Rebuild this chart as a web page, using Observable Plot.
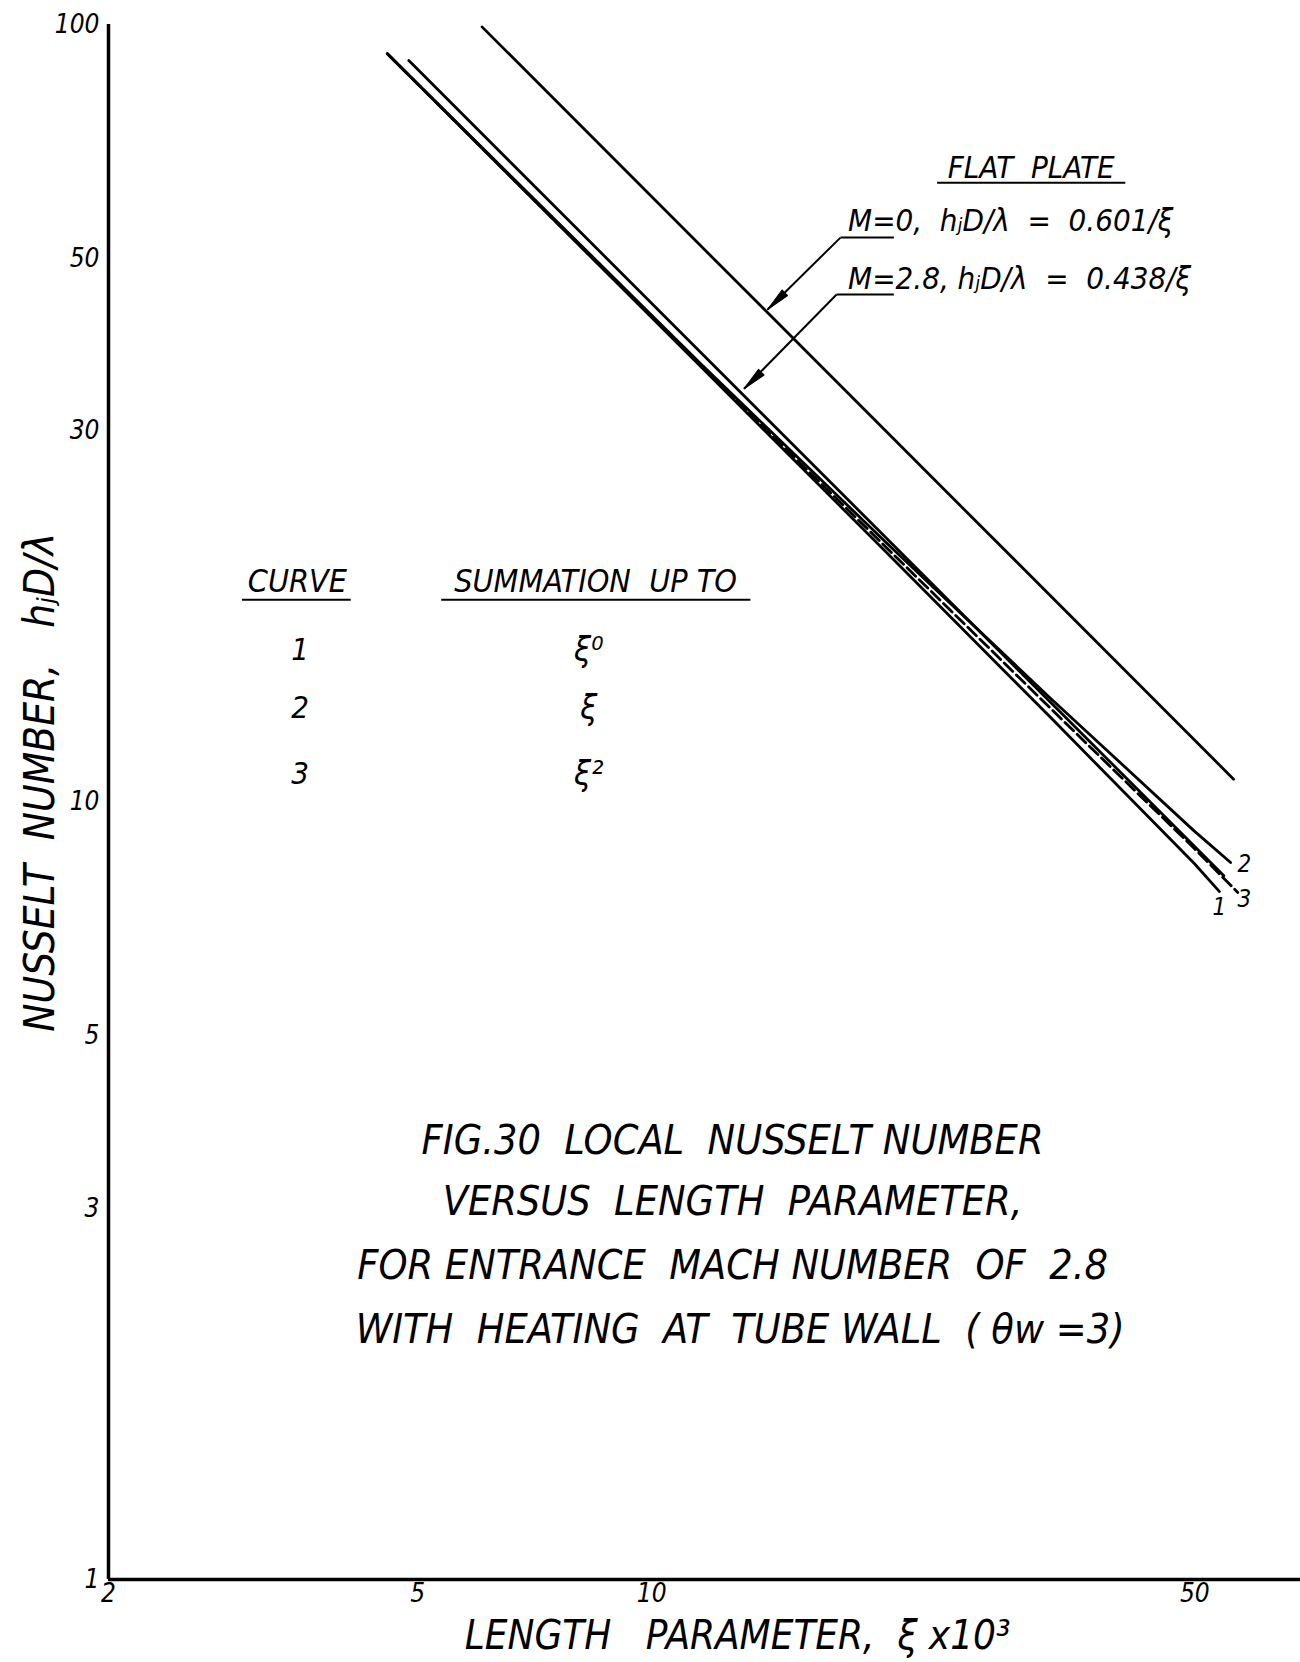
<!DOCTYPE html>
<html>
<head>
<meta charset="utf-8">
<script src="https://cdn.jsdelivr.net/npm/d3@7"></script>
<script src="https://cdn.jsdelivr.net/npm/@observablehq/plot@0.6"></script>
<style>
  html, body { margin: 0; padding: 0; background: #fff; overflow: hidden; }
  #chart svg { display: block; }
</style>
</head>
<body>
<div id="chart"></div>
<script>
// ---- data ----
const xTicks = [2, 5, 10, 50];
const yTicks = [1, 3, 5, 10, 30, 50, 100];

// curves 1, 2, 3 (summation up to xi^0, xi, xi^2)
const curve1X  = [4.57, 11.6, 20, 32.6, 49.9, 53.8];
const curve1Nu = [91.7, 36.2, 21.0, 12.85, 8.34, 7.67];
const curve2X  = [4.57, 11.6, 20, 32.6, 49.9, 55.6];
const curve2Nu = [91.7, 36.5, 21.6, 13.6, 9.18, 8.36];
const curve3X  = [4.57, 11.6, 20, 32.6, 49.9, 56.8];
const curve3Nu = [91.7, 36.3, 21.3, 13.2, 8.72, 7.65];

// flat plate lines
const flat0X  = [6.05, 56.1];   // M = 0
const flat0Nu = [99.3, 10.7];
const flat28X  = [4.87, 54.5];  // M = 2.8
const flat28Nu = [89.9, 8.04];

// curve end labels
const endLabels = ["2", "3", "1"];
const endLabelX = [57.9, 57.9, 53.8];
const endLabelNu = [8.31, 7.49, 7.32];

// legend table
const legendHeaders = ["CURVE", "SUMMATION  UP TO"];
const legendHeaderX = [3.50, 8.47];
const legendHeaderNu = [19.2, 19.2];
const legendUnderX1 = [2.97, 5.36];
const legendUnderX2 = [4.10, 13.4];
const legendUnderNu = [18.2, 18.2];
const legendCurves = ["1", "2", "3"];
const legendTerms = ["ξ⁰", "ξ", "ξ²"];
const legendRowNu = [15.7, 13.19, 10.85];
const legendCurveX = 3.53;
const legendTermX = 8.30;

// flat-plate annotation
const flatTitle = "FLAT  PLATE";
const flatTitleX = 30.8, flatTitleNu = 65.3;
const flatTitleUnderX = [23.3, 40.7], flatTitleUnderNu = 62.6;
const flatEqs = ["M=0,  hⱼD/λ  =  0.601/ξ", "M=2.8, hⱼD/λ  =  0.438/ξ"];
const flatEqX = [17.9, 17.9];
const flatEqNu = [55.9, 47.1];
const underM_X1 = [17.5, 17.3], underM_X2 = [20.5, 20.5], underM_Nu = [53.2, 44.96];
const arrowTipX = [14.1, 13.15], arrowTipNu = [43.0, 34.0];

// caption
const captionLines = [
  "FIG.30  LOCAL  NUSSELT NUMBER",
  "VERSUS  LENGTH  PARAMETER,",
  "FOR ENTRANCE  MACH NUMBER  OF  2.8",
  "WITH  HEATING  AT  TUBE WALL  ( θw =3)"
];
const captionX = [12.71, 12.71, 12.71, 13.0];
const captionNu = [3.67, 3.06, 2.535, 2.097];

const xLabel = "LENGTH   PARAMETER,  ξ x10³";
const xLabelX = 12.9, xLabelNu = 0.845;
const yLabel = "NUSSELT  NUMBER,   hⱼD/λ";
const yLabelX = 1.635, yLabelNu = 10.6;

// ---- build ----
const FONT = '"Liberation Sans Narrow", "DejaVu Sans Condensed", "Liberation Sans", "DejaVu Sans", sans-serif';
const txt = {fontFamily: FONT, fontStyle: "italic", fill: "black"};

const toPts = (xs, ys, id) => xs.map((x, i) => ({x, nu: ys[i], id}));
const solidCurves = [
  ...toPts(curve1X, curve1Nu, "1"),
  ...toPts(curve2X, curve2Nu, "2"),
  ...toPts(flat0X, flat0Nu, "M0"),
  ...toPts(flat28X, flat28Nu, "M28")
];
const dashedCurve = toPts(curve3X, curve3Nu, "3");

const endLab = endLabels.map((t, i) => ({t, x: endLabelX[i], nu: endLabelNu[i]}));
const headers = legendHeaders.map((t, i) => ({t, x: legendHeaderX[i], nu: legendHeaderNu[i], x1: legendUnderX1[i], x2: legendUnderX2[i], un: legendUnderNu[i]}));
const rows = legendCurves.map((c, i) => ({c, term: legendTerms[i], nu: legendRowNu[i]}));
const eqs = flatEqs.map((t, i) => ({t, x: flatEqX[i], nu: flatEqNu[i], ux1: underM_X1[i], ux2: underM_X2[i], un: underM_Nu[i], tx: arrowTipX[i], tn: arrowTipNu[i]}));
const caps = captionLines.map((t, i) => ({t, x: captionX[i], nu: captionNu[i]}));

const spike = {
  draw(context, l, r) {
    context.moveTo(-r, 0);
    context.lineTo(0, -l);
    context.lineTo(r, 0);
    context.closePath();
  }
};

const chart = Plot.plot({
  width: 1300,
  height: 1662,
  marginLeft: 108,
  marginRight: 0,
  marginTop: 24,
  marginBottom: 83,
  style: {background: "white"},
  x: {type: "log", domain: [2, 68.4]},
  y: {type: "log", domain: [1, 100]},
  marks: [
    Plot.axisX({ticks: xTicks, tickSize: 0, tickPadding: 4, tickFormat: d => String(d), fontSize: 26, label: null, ...txt}),
    Plot.axisY({ticks: yTicks, tickSize: 0, tickPadding: 9, tickFormat: d => String(d), fontSize: 26, label: null, ...txt}),
    Plot.ruleX([2], {y1: 1, y2: 100, stroke: "black", strokeWidth: 3.5}),
    Plot.ruleY([1], {x1: 2, x2: 68.4, stroke: "black", strokeWidth: 3.5}),
    Plot.line(solidCurves, {x: "x", y: "nu", z: "id", stroke: "black", strokeWidth: 2.8}),
    Plot.line(dashedCurve, {x: "x", y: "nu", stroke: "black", strokeWidth: 2.8, strokeDasharray: "12,5"}),
    Plot.text(endLab, {x: "x", y: "nu", text: "t", fontSize: 24, ...txt}),
    // legend table
    Plot.text(headers, {x: "x", y: "nu", text: "t", fontSize: 32, ...txt}),
    Plot.link(headers, {x1: "x1", x2: "x2", y1: "un", y2: "un", stroke: "black", strokeWidth: 2}),
    Plot.text(rows, {x: legendCurveX, y: "nu", text: "c", fontSize: 31, ...txt}),
    Plot.text(rows, {x: legendTermX, y: "nu", text: "term", fontSize: 34, ...txt}),
    // flat plate annotation
    Plot.text([flatTitle], {x: flatTitleX, y: flatTitleNu, text: d => d, fontSize: 31, ...txt}),
    Plot.link([flatTitle], {x1: flatTitleUnderX[0], x2: flatTitleUnderX[1], y1: flatTitleUnderNu, y2: flatTitleUnderNu, stroke: "black", strokeWidth: 2}),
    Plot.text(eqs, {x: "x", y: "nu", text: "t", textAnchor: "start", fontSize: 31, ...txt}),
    Plot.link(eqs, {x1: "ux1", x2: "ux2", y1: "un", y2: "un", stroke: "black", strokeWidth: 2}),
    Plot.link(eqs, {x1: "ux1", y1: "un", x2: "tx", y2: "tn", stroke: "black", strokeWidth: 2}),
    Plot.vector(eqs, {x: "tx", y: "tn", rotate: 226, length: 24, r: 4, anchor: "end", shape: spike, fill: "black", stroke: "black", strokeWidth: 1}),
    // caption
    Plot.text(caps, {x: "x", y: "nu", text: "t", fontSize: 41, ...txt}),
    // axis titles
    Plot.text([xLabel], {x: xLabelX, y: xLabelNu, text: d => d, fontSize: 40, ...txt}),
    Plot.text([yLabel], {x: yLabelX, y: yLabelNu, text: d => d, rotate: -90, fontSize: 42, ...txt})
  ]
});

document.getElementById("chart").appendChild(chart);
</script>
</body>
</html>
